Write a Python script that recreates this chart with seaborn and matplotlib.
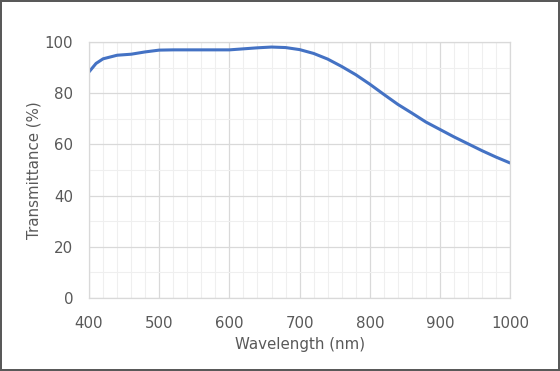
import numpy as np
import pandas as pd
import matplotlib
matplotlib.use('Agg')
import matplotlib.pyplot as plt
import seaborn as sns

wavelength = [400, 410, 420, 440, 460, 480, 500, 520, 540, 560, 580, 600, 620, 640, 660, 680,
              700, 720, 740, 760, 780, 800, 820, 840, 860, 880, 900, 920, 940, 960, 980, 1000]
transmittance = [88.3, 91.6, 93.4, 94.8, 95.2, 96.1, 96.8, 96.9, 96.9, 96.9, 96.9, 96.9, 97.3, 97.7, 98.0, 97.8,
                 97.0, 95.5, 93.3, 90.4, 87.2, 83.5, 79.5, 75.6, 72.2, 68.7, 65.8, 62.9, 60.2, 57.5, 55.0, 52.7]

df = pd.DataFrame({'Wavelength': wavelength, 'Transmittance': transmittance})

sns.set_style('white')
plt.rcParams['font.family'] = ['DejaVu Sans']
grey = '#595959'

fig = plt.figure(figsize=(5.6, 3.71), dpi=100, edgecolor=grey, linewidth=1.5)
ax = fig.add_axes([0.159, 0.197, 0.752, 0.69])

sns.lineplot(data=df, x='Wavelength', y='Transmittance', ax=ax, color='#4472C4', linewidth=2.2)

ax.set_xlim(400, 1000)
ax.set_ylim(0, 100)
ax.set_xticks(np.arange(400, 1001, 100))
ax.set_yticks(np.arange(0, 101, 20))
ax.set_xticks(np.arange(400, 1001, 20), minor=True)
ax.set_yticks(np.arange(0, 101, 10), minor=True)
ax.grid(which='major', color='#D9D9D9', linewidth=0.9)
ax.grid(which='minor', color='#EFEFEF', linewidth=0.8)
ax.set_axisbelow(True)
for s in ax.spines.values():
    s.set_color('#D9D9D9')
    s.set_linewidth(0.9)
ax.tick_params(which='both', length=0, colors=grey, labelsize=10.8)
ax.tick_params(axis='x', pad=13)
ax.tick_params(axis='y', pad=11.5)
ax.set_xlabel('Wavelength (nm)', color=grey, fontsize=10.8, labelpad=4)
ax.set_ylabel('Transmittance (%)', color=grey, fontsize=10.8, labelpad=2)

fig.savefig('out.png', dpi=100, edgecolor=grey)
